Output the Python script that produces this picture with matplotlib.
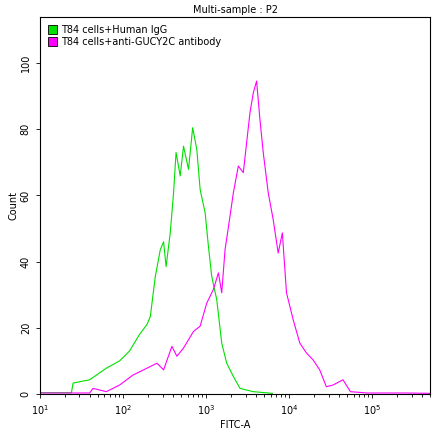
import matplotlib.pyplot as plt
import matplotlib.patches as mpatches
import numpy as np

# log10(FITC-A), count
igg_logx = [1.0, 1.001, 1.38, 1.40, 1.60, 1.80, 1.96, 2.08, 2.20, 2.29, 2.33, 2.39, 2.45, 2.49,
            2.52, 2.57, 2.61, 2.64, 2.69, 2.73, 2.79, 2.84, 2.89, 2.93, 2.99, 3.03, 3.07, 3.13,
            3.19, 3.25, 3.33, 3.41, 3.57, 3.8]
igg_count = [78, 0.4, 0.4, 3.3, 4.3, 7.8, 10, 13, 18, 21, 23.4, 35.5, 43.6, 46,
             38.5, 48.7, 60.8, 73, 65.9, 74.9, 67.9, 80.5, 73.9, 61.8, 54.8, 44.6, 35.5, 28.5,
             15.4, 9.3, 5.3, 1.7, 0.7, 0.2]

ab_logx = [1.0, 1.001, 1.60, 1.64, 1.80, 1.96, 2.12, 2.29, 2.41, 2.49, 2.59, 2.65, 2.73,
           2.85, 2.93, 3.01, 3.09, 3.15, 3.19, 3.23, 3.29, 3.33, 3.39, 3.45, 3.49, 3.53,
           3.57, 3.61, 3.65, 3.69, 3.75, 3.81, 3.87, 3.92, 3.97, 4.05, 4.13, 4.21, 4.29,
           4.37, 4.45, 4.53, 4.65, 4.74, 4.94, 5.4, 5.7]
ab_count = [53, 0.3, 0.3, 1.7, 0.7, 2.7, 5.7, 7.8, 9.3, 7.3, 14.4, 11.4, 13.9,
            18.9, 20.5, 27.5, 31.6, 36.6, 30.6, 43.6, 53.8, 60.8, 68.9, 66.9, 76, 85,
            91, 94.6, 83, 73, 60.8, 52.7, 42.6, 48.7, 30.6, 22.5, 15.4, 12.4, 10.3,
            7.3, 2.2, 2.7, 4.3, 0.7, 0.3, 0.3, 0.2]

labels = ["T84 cells+Human IgG", "T84 cells+anti-GUCY2C antibody"]
colors = ["#00e000", "#ff00ff"]

fig = plt.figure(figsize=(4.43, 4.32), dpi=100)
ax = fig.add_axes([0.090, 0.088, 0.881, 0.873])
ax.plot(10 ** np.array(igg_logx), igg_count, color=colors[0], lw=0.8)
ax.plot(10 ** np.array(ab_logx), ab_count, color=colors[1], lw=0.8)
ax.set_xscale("log")
ax.set_xlim(10, 10 ** 5.7)
ax.set_ylim(0, 114)
ax.set_yticks([0, 20, 40, 60, 80, 100])
ax.tick_params(labelsize=7, length=3, width=0.6)
ax.tick_params(axis="y", labelrotation=90)
for lab in ax.get_yticklabels():
    lab.set_va("center")
ax.set_xlabel("FITC-A", fontsize=7, labelpad=2)
ax.set_ylabel("Count", fontsize=7, labelpad=2)
ax.set_title("Multi-sample : P2", fontsize=7, pad=3)
for s in ax.spines.values():
    s.set_linewidth(0.8)

handles = [mpatches.Patch(facecolor=c, edgecolor="black", lw=0.6, label=l)
           for c, l in zip(colors, labels)]
ax.legend(handles=handles, loc="upper left", fontsize=7, frameon=False,
          handlelength=1.0, handleheight=1.0, handletextpad=0.4, labelspacing=0.2,
          borderaxespad=0.4)

fig.savefig("out.png", dpi=100)
